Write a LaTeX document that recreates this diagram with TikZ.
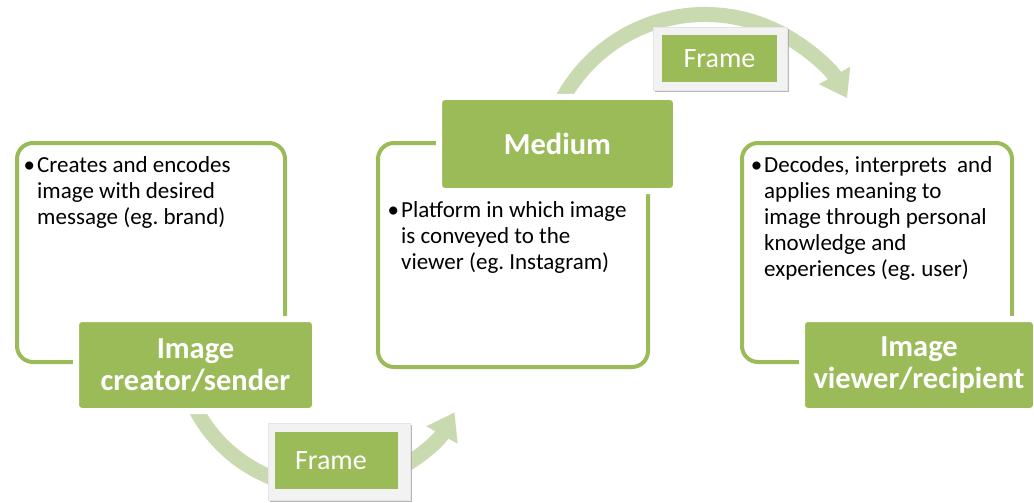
\documentclass[tikz,border=0pt]{standalone}
\usepackage{fontspec}
\setmainfont{Carlito}
\usetikzlibrary{calc,arrows.meta,shadows}

\definecolor{leaf}{HTML}{9BBB59}
\definecolor{leaflight}{HTML}{C9DAB0}

\tikzset{
  outline/.style={draw=leaf, line width=4pt, rounded corners=16pt},
  title/.style={fill=leaf, draw=white, line width=6pt, rounded corners=6pt, inner sep=0pt,
    text=white, align=center, font=\bfseries\fontsize{30.5}{32}\selectfont},
  body/.style={anchor=north west, align=left, inner sep=0pt, font=\fontsize{23}{26}\selectfont\frenchspacing},
  framebg/.style={fill=black!5, draw=black!10, line width=0.5pt,
    drop shadow={shadow xshift=2pt, shadow yshift=-2pt, fill=black!35, opacity=0.8}},
  framebox/.style={fill=leaf, inner sep=0pt, text=white, font=\fontsize{28}{32}\selectfont},
  bendarrow/.style={draw=leaflight, line width=15pt, -{Triangle[width=34pt,length=26pt]}}
}

\begin{document}
\begin{tikzpicture}[x=1pt,y=-1pt]
  \useasboundingbox (0,0) rectangle (1034,503);

  % centres of the two bending arrows
  \coordinate (topc) at (705,177);
  \coordinate (botc) at (326,341);
  \coordinate (toparcstart) at ($(topc)+(153:162.5pt)$);
  \coordinate (botarcstart) at ($(botc)+(203:147pt)$);

  % bending arrows go first, boxes sit on top of them
  \draw[bendarrow] (toparcstart) arc[start angle=153, end angle=29, radius=162.5pt];
  \draw[bendarrow] (botarcstart) arc[start angle=203, end angle=331, radius=147pt];

  % outlines of the three boxes
  \draw[outline] (17,143) rectangle (285,362);
  \draw[outline] (378,143) rectangle (648,367);
  \draw[outline] (742,143) rectangle (1012,362);

  % text inside the boxes
  \node[body] (sendertext) at (37,156)
    {\llap{\textbullet\hspace{2pt}}Creates and encodes\\image with desired\\message (eg. brand)};
  \node[body] (mediumtext) at (401,201)
    {\llap{\textbullet\hspace{2pt}}Platform in which image\\is conveyed to the\\viewer (eg. Instagram)};
  \node[body] (viewertext) at (764,156)
    {\llap{\textbullet\hspace{2pt}}Decodes, interprets\ \ and\\applies meaning to\\image through personal\\knowledge and\\experiences (eg. user)};

  % title boxes
  \node[title, minimum width=239, minimum height=92] (sender) at (195.5,365) {Image\\creator/sender};
  \node[title, minimum width=237, minimum height=94] (medium) at (557.5,144) {Medium};
  \node[title, minimum width=234, minimum height=92] (viewer) at (919,365) {Image\\viewer/recipient};

  % frame labels on the arrows
  \node[framebg, minimum width=134, minimum height=63] (frametopbg) at (720,58.5) {};
  \node[framebox, minimum width=115, minimum height=47] (frametop) at (719.5,58.5) {Frame};
  \node[framebg, minimum width=142, minimum height=77] (framebotbg) at (339,461.5) {};
  \node[framebox, minimum width=123, minimum height=57] (framebot) at (336.5,460.5)
    {\makebox[123pt][l]{\hspace{20pt}Frame}};
\end{tikzpicture}
\end{document}
